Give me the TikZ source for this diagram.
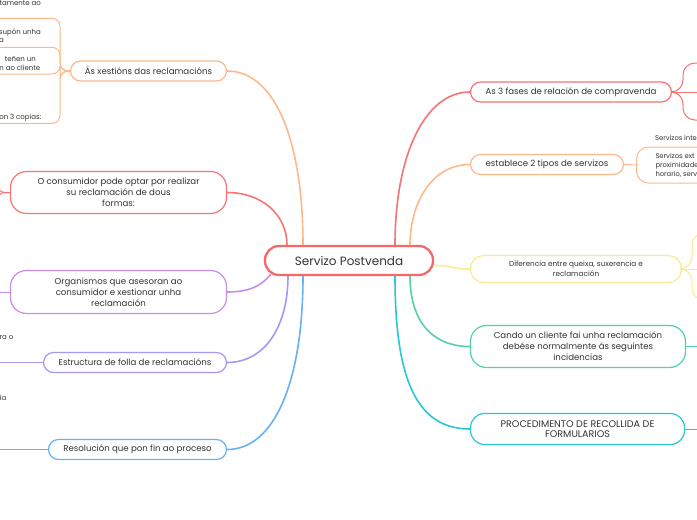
\documentclass[tikz,border=0pt]{standalone}
\usepackage{fontspec}
\setmainfont{Poppins}
\definecolor{cRed}{RGB}{246,104,104}
\definecolor{bRed}{RGB}{248,115,115}
\definecolor{bOrange}{RGB}{253,185,140}
\definecolor{bPurple}{RGB}{201,140,232}
\definecolor{bLav}{RGB}{166,152,246}
\definecolor{bBlue}{RGB}{102,178,245}
\definecolor{bYellow}{RGB}{250,236,140}
\definecolor{bGreen}{RGB}{82,211,165}
\definecolor{bCyan}{RGB}{40,198,214}
\definecolor{txt}{RGB}{51,51,51}
\tikzset{
  topic/.style={draw, line width=1.2pt, rounded corners=10pt, fill=white, text=txt,
    align=center, inner sep=0pt, font=\fontsize{8.6}{11}\selectfont},
  smalltopic/.style={topic, font=\fontsize{7.3}{10}\selectfont},
  link/.style={line width=1.6pt},
  sublink/.style={line width=1pt, rounded corners=8pt},
  frag/.style={font=\fontsize{7}{8.5}\selectfont, text=txt, inner sep=0pt, anchor=base east},
  fragw/.style={font=\fontsize{6.8}{9}\selectfont, text=txt, inner sep=0pt, anchor=base west},
}
\begin{document}
\begin{tikzpicture}[x=1pt,y=-1pt]
\fill[white] (0,0) rectangle (697,520);
\clip (0,0) rectangle (697,520);

% central node
\node[draw=cRed, line width=2.3pt, rounded corners=14pt, fill=white, text=txt,
  minimum width=168, minimum height=29, inner sep=0pt,
  font=\fontsize{12}{14}\selectfont] (C) at (349,260.5) {Servizo Postvenda};

% left topics
\node[topic, draw=bOrange, minimum width=156, minimum height=20] (X) at (148.5,71) {Ás xestións das reclamacións};
\node[topic, draw=bRed, rounded corners=16pt, minimum width=216, minimum height=42] (O) at (118.5,192.5)
  {O consumidor pode optar por realizar\\su reclamación de dous\\formas:};
\node[topic, draw=bPurple, rounded corners=16pt, minimum width=216, minimum height=43] (G) at (118.5,292)
  {Organismos que asesoran ao\\consumidor e xestionar unha\\reclamación};
\node[topic, draw=bLav, minimum width=183, minimum height=20] (E) at (135,362.5) {Estructura de folla de reclamacións};
\node[topic, draw=bBlue, minimum width=178, minimum height=20] (R) at (137.5,449.5) {Resolución que pon fin ao proceso};

% right topics
\node[topic, draw=bRed, minimum width=201, minimum height=20] (F) at (571,92) {As 3 fases de relación de compravenda};
\node[topic, draw=bOrange, minimum width=153, minimum height=20] (T) at (547,164.5) {establece 2 tipos de servizos};
\node[smalltopic, draw=bYellow, rounded corners=13pt, minimum width=211, minimum height=27] (D) at (576,269)
  {Diferencia entre queixa, suxerencia e\\reclamación};
\node[topic, draw=bGreen, rounded corners=16pt, minimum width=215, minimum height=42] (K) at (578,346.5)
  {Cando un cliente fai unha reclamación\\debése normalmente ás seguintes\\incidencias};
\node[topic, draw=bCyan, rounded corners=14pt, minimum width=214, minimum height=31,
  font=\fontsize{9.6}{10.5}\selectfont] (P) at (577.5,429)
  {PROCEDIMENTO DE RECOLLIDA DE\\FORMULARIOS};

% main connectors
\draw[link, bOrange] (X.east) .. controls +(48,0) and +(0,-104) .. (303,245);
\draw[link, bRed] (O.east) .. controls +(35,0) and +(0,-30) .. (287,245);
\draw[link, bPurple] (G.east) .. controls +(25,0) and +(-8,10) .. (271,274);
\draw[link, bLav] (E.east) .. controls +(38,0) and +(0,50) .. (288,276);
\draw[link, bBlue] (R.east) .. controls +(48,0) and +(0,104) .. (303,276);
\draw[link, bRed] (F.west) .. controls +(-45,0) and +(0,-90) .. (395,245);
\draw[link, bOrange] (T.west) .. controls +(-38,0) and +(0,-42) .. (410,245);
\draw[link, bYellow] (C.east) ++(0,5) coordinate (cy) .. controls +(18,0) and +(-18,0) .. (D.west);
\draw[link, bGreen] (K.west) .. controls +(-38,0) and +(0,45) .. (410,276);
\draw[link, bCyan] (P.west) .. controls +(-55,0) and +(0,100) .. (395,276);

% left sub-branches of X
\coordinate (x1) at (-3,18.3);
\coordinate (x2) at (-3,47.3);
\coordinate (x3) at (-3,74);
\coordinate (x4) at (-3,123.3);
\draw[sublink, bOrange] (X.west) -- (60,71) |- (x1);
\draw[sublink, bOrange] (X.west) -- (60,71) |- (x2);
\draw[sublink, bOrange] (X.west) -- (60,71) |- (x3);
\draw[sublink, bOrange] (X.west) -- (60,71) |- (x4);
\node[frag] (t1) at (41,5.6) {tamente ao};
\node[frag] (t2) at (41,34) {supón unha};
\node[frag] (t2b) at (4,42) {a};
\node[frag] (t3) at (36,61) {teñen un};
\node[frag] (t3b) at (40.5,70) {n ao cliente};
\node[frag] (t4) at (41.5,119.5) {on 3 copias:};

% other left stubs
\coordinate (o1) at (-20,150);
\coordinate (o2) at (-20,236);
\draw[sublink, bRed] (O.west) -- (-3,192.5) |- (o1);
\draw[sublink, bRed] (O.west) -- (-3,192.5) |- (o2);
\coordinate (g1) at (-5,292);
\draw[sublink, bPurple] (G.west) -- (g1);
\coordinate (e1) at (-5,362.5);
\draw[sublink, bLav] (E.west) -- (e1);
\coordinate (r1) at (-5,449.5);
\draw[sublink, bBlue] (R.west) -- (r1);
\node[frag] (e2) at (13.5,339.5) {ra o};
\node[frag] (e3) at (6.5,400) {ía};

% right sub-branches
\coordinate (f1) at (710,63);
\coordinate (f2) at (710,92);
\coordinate (f3) at (710,120);
\draw[sublink, bRed, rounded corners=12pt] (F.east) -- (683,92) |- (f1);
\draw[sublink, bRed] (F.east) -- (f2);
\draw[sublink, bRed, rounded corners=12pt] (F.east) -- (683,92) |- (f3);

\node[draw=bOrange, line width=1pt, rounded corners=12pt, fill=white, text=txt,
  anchor=west, align=left, inner xsep=19pt, inner ysep=0pt, minimum height=36,
  font=\fontsize{6.8}{9}\selectfont] (S) at (636,165)
  {Servizos ext\\proximidade\\horario, serv};
\draw[sublink, bOrange] (T.east) -- (S.west);
\node[fragw] (si) at (655,140.5) {Servizos inte};

\coordinate (d1) at (712,233);
\coordinate (d2) at (712,269);
\coordinate (d3) at (712,300);
\draw[sublink, bYellow, rounded corners=12pt] (D.east) -- (692,269) |- (d1);
\draw[sublink, bYellow] (D.east) -- (d2);
\draw[sublink, bYellow, rounded corners=12pt] (D.east) -- (692,269) |- (d3);

\coordinate (k1) at (705,346.5);
\draw[sublink, bGreen] (K.east) -- (k1);
\coordinate (p1) at (705,429);
\draw[sublink, bCyan] (P.east) -- (p1);
\end{tikzpicture}
\end{document}
